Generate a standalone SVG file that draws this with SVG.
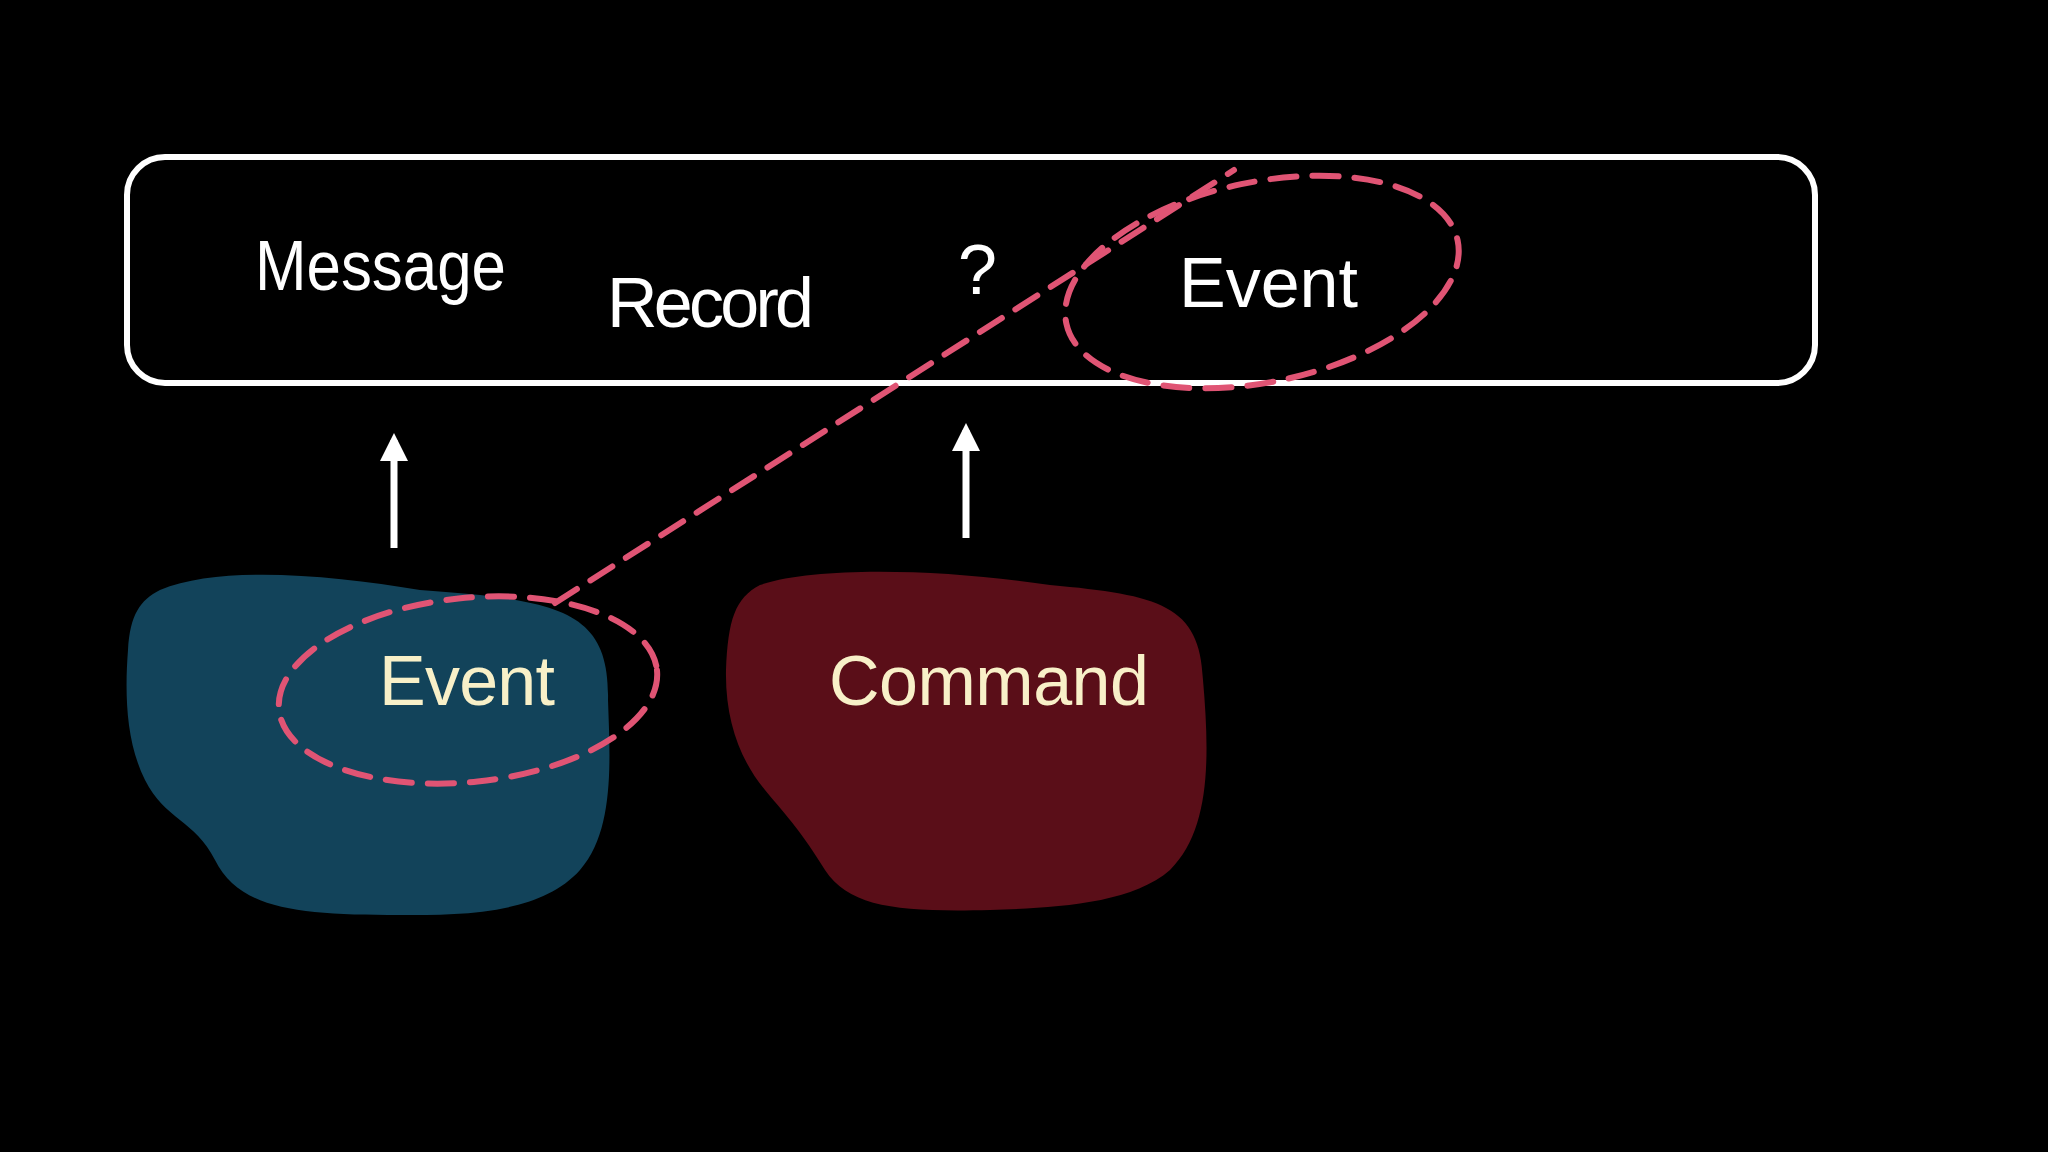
<svg xmlns="http://www.w3.org/2000/svg" width="2048" height="1152" viewBox="0 0 2048 1152">
<style>
.t{font-family:"Liberation Sans",sans-serif;font-size:70px}
.w{fill:#fff}.c{fill:#f8f0c8}
.d{fill:none;stroke:#e05474;stroke-width:6;stroke-dasharray:26 16;stroke-linecap:round}
.a{stroke:#fff;stroke-width:7}
</style>
<defs><marker id="ah" markerWidth="4" markerHeight="4" refX="3" refY="2" orient="auto" markerUnits="strokeWidth"><path d="M0,0 L4,2 L0,4 Z" fill="#fff"/></marker></defs>
<rect width="2048" height="1152" fill="#000"/>
<g id="bar"><rect x="127" y="157" width="1688" height="226" rx="38" fill="none" stroke="#fff" stroke-width="6"/>
<text class="t w" x="255" y="290" textLength="251" lengthAdjust="spacingAndGlyphs">Message</text>
<text class="t w" x="607" y="327" textLength="207">Record</text>
<text class="t w" x="958" y="294">?</text>
<text class="t w" x="1179" y="307" textLength="179">Event</text></g>
<g id="eventBlob"><path d="M160,590 C220,565 330,575 420,590 C560,600 610,610 608,700 C610,760 615,830 580,870 C540,915 460,915 400,915 C300,915 240,910 215,860 C195,820 165,820 145,780 C125,740 125,690 128,650 C130,615 140,600 160,590 Z" fill="#12435a"/>
<text class="t c" x="379" y="705" textLength="176">Event</text></g>
<g id="commandBlob"><path d="M760,585 C820,565 950,570 1050,585 C1160,595 1200,605 1203,680 C1210,760 1210,830 1170,870 C1130,905 1050,908 990,910 C900,912 850,908 825,870 C800,830 790,820 765,790 C740,760 725,720 726,670 C728,620 735,598 760,585 Z" fill="#5a0e18"/>
<text class="t c" x="829" y="705" textLength="320">Command</text></g>
<g id="connectors">
<line class="a" x1="394" y1="548" x2="394" y2="440" marker-end="url(#ah)"/>
<line class="a" x1="966" y1="538" x2="966" y2="430" marker-end="url(#ah)"/>
<ellipse class="d" cx="468" cy="690" rx="190" ry="92" transform="rotate(-6 468 690)"/>
<ellipse class="d" cx="1262" cy="282" rx="200" ry="100" transform="rotate(-12 1262 282)"/>
<line class="d" x1="555" y1="603" x2="1234" y2="170"/>
</g>
</svg>
